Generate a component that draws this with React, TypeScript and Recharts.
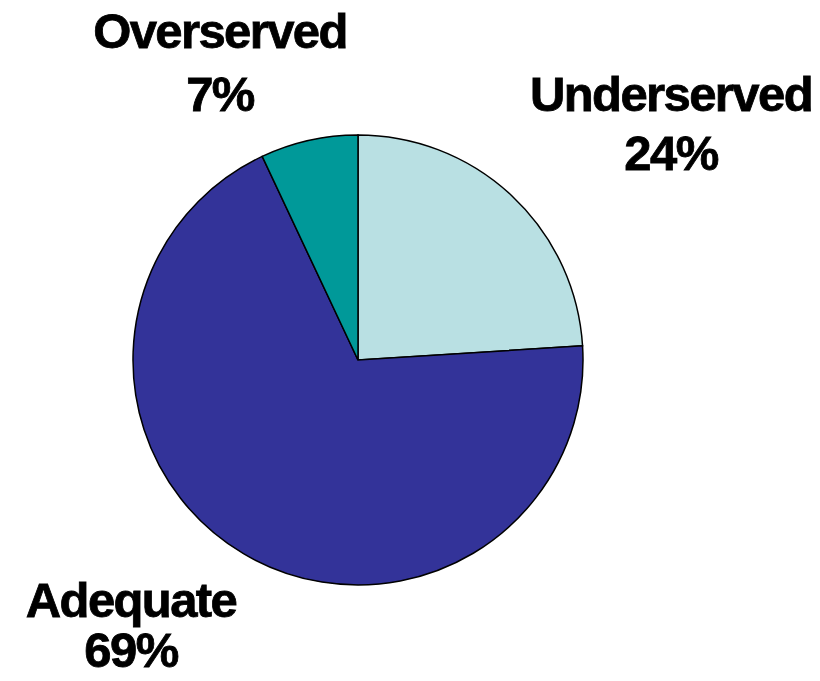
import React from 'react';
import { PieChart, Pie, Cell } from 'recharts';

const categories = ['Underserved', 'Adequate', 'Overserved'];
const shares = [24, 69, 7];
const colors = ['#B9E0E3', '#333399', '#009999'];

const data = categories.map((name, i) => ({ name, value: shares[i] }));

// label anchor relative to pie centre: [dx, dy of first baseline, line gap]
const labelPlacement: Record<string, [number, number, number]> = {
  Underserved: [313, -249, 59],
  Overserved: [-138, -312, 63],
  Adequate: [-227, 257, 50],
};

const renderLabel = (props: any) => {
  const { cx, cy, percent } = props;
  const name = props.payload?.name ?? props.name;
  const [dx, dy, gap] = labelPlacement[name] || [0, 0, 58];
  const x = cx + dx;
  const y = cy + dy;
  return (
    <text
      x={x}
      y={y}
      textAnchor="middle"
      fill="#000"
      stroke="#000"
      strokeWidth={0.8}
      fontFamily="'Liberation Sans', Arial, sans-serif"
      fontWeight="bold"
      fontSize={49}
      letterSpacing={-1.6}
    >
      <tspan x={x} y={y}>{name}</tspan>
      <tspan x={x} y={y + gap}>{Math.round(percent * 100)}%</tspan>
    </text>
  );
};

const App: React.FC = () => {
  return (
    <div style={{ width: 820, height: 681, margin: -8 }}>
      <PieChart width={820} height={681} margin={{ top: 0, right: 0, bottom: 0, left: 0 }}>
        <Pie
          data={data}
          dataKey="value"
          nameKey="name"
          cx={358}
          cy={360}
          outerRadius={225}
          startAngle={90}
          endAngle={-270}
          stroke="#000"
          strokeWidth={1.5}
          label={renderLabel}
          labelLine={false}
          isAnimationActive={false}
        >
          {data.map((d, i) => (
            <Cell key={d.name} fill={colors[i]} />
          ))}
        </Pie>
      </PieChart>
    </div>
  );
};

export default App;
